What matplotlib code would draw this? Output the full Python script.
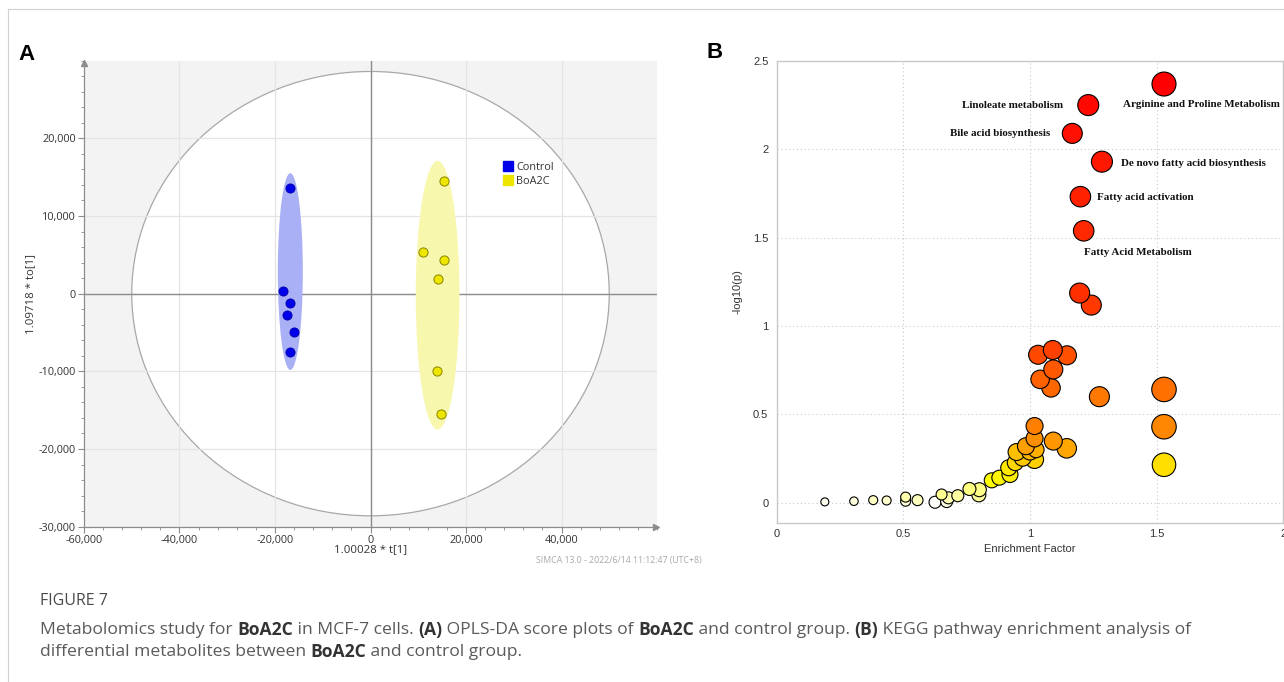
import matplotlib
matplotlib.use("Agg")
import matplotlib.pyplot as plt
import numpy as np
import colorsys
from matplotlib.patches import Ellipse
from matplotlib.lines import Line2D
from matplotlib.ticker import FuncFormatter, MultipleLocator

W, H = 1284, 682

# ---------------- Panel A data (OPLS-DA scores) ----------------
control_t = [-16790, -18260, -16940, -17500, -15950, -16940]
control_to = [13640, 310, -1160, -2780, -4890, -7500]
boa2c_t = [15450, 10980, 15320, 14190, 13910, 14690]
boa2c_to = [14500, 5330, 4380, 1850, -9910, -15520]
group_names = ["Control", "BoA2C"]
group_ell_center = [(-16790, 2840), (14060, -200)]
group_ell_semi = [(2620, 12660), (4580, 17300)]
hotelling_semi = (50000, 28600)
a_xticks = [-60000, -40000, -20000, 0, 20000, 40000]
a_yticks = [-30000, -20000, -10000, 0, 10000, 20000]

# ---------------- Panel B data (KEGG enrichment) ----------------
enrichment = [1.529, 1.230, 1.167, 1.284, 1.199, 1.212, 1.196, 1.242,
              1.032, 1.090, 1.146, 1.092, 1.040, 1.083, 1.274, 1.529,
              1.529, 1.529, 1.018, 1.018, 1.092, 1.145, 1.018, 1.000,
              0.984, 1.024, 0.971, 0.947, 0.942, 0.916, 0.921, 0.879,
              0.849, 0.800, 0.798, 0.761, 0.715, 0.678, 0.671, 0.651,
              0.625, 0.556, 0.509, 0.509, 0.434, 0.381, 0.305, 0.190]
neglogp = [2.368, 2.249, 2.089, 1.929, 1.731, 1.538, 1.186, 1.118,
           0.837, 0.864, 0.834, 0.754, 0.698, 0.650, 0.600, 0.641,
           0.430, 0.215, 0.434, 0.364, 0.349, 0.308, 0.245, 0.290,
           0.320, 0.300, 0.255, 0.287, 0.227, 0.198, 0.160, 0.142,
           0.127, 0.074, 0.045, 0.078, 0.040, 0.028, 0.007, 0.047,
           0.003, 0.015, 0.032, 0.009, 0.013, 0.015, 0.009, 0.005]
pathway_size = [24, 21, 20, 21, 20.5, 20.5, 20, 20,
                19, 19, 19, 19, 18.5, 18.5, 20, 24.5,
                24.5, 23.5, 17, 17, 18, 19.5, 18, 17,
                17, 16, 17, 17, 16, 16, 16, 15,
                15, 14, 14, 13, 12, 12, 12, 11,
                12, 11, 10, 10, 9, 9, 8.5, 8]
labels = {0: "Arginine and Proline Metabolism", 1: "Linoleate metabolism",
          2: "Bile acid biosynthesis", 3: "De novo fatty acid biosynthesis",
          4: "Fatty acid activation", 5: "Fatty Acid Metabolism"}
b_xticks = [0, 0.5, 1, 1.5, 2]
b_yticks = [0, 0.5, 1, 1.5, 2, 2.5]

fig = plt.figure(figsize=(W / 100, H / 100), dpi=100)
fig.patch.set_facecolor("white")


def ax_rect(l, t, r, b):
    return [l / W, 1 - b / H, (r - l) / W, (b - t) / H]


# ======================= Panel A =======================
axA = fig.add_axes(ax_rect(84, 60.6, 657, 526.7))
axA.set_xlim(-60000, 60000)
axA.set_ylim(-30000, 30000)
axA.set_facecolor("#f3f3f3")
axA.add_patch(Ellipse((0, 0), 2 * hotelling_semi[0], 2 * hotelling_semi[1],
                      facecolor="white", edgecolor="#a8a8a8", lw=0.9, zorder=1))
for v in a_xticks[1:]:
    axA.axvline(v, color="#e4e4e4", lw=0.9, zorder=1.5)
for v in a_yticks[1:]:
    axA.axhline(v, color="#e4e4e4", lw=0.9, zorder=1.5)
axA.axvline(0, color="#8c8c8c", lw=1.0, zorder=1.6)
axA.axhline(0, color="#8c8c8c", lw=1.0, zorder=1.6)

ell_cols = ["#aab0f6", "#f7f7ae"]
for (c, s, col) in zip(group_ell_center, group_ell_semi, ell_cols):
    axA.add_patch(Ellipse(c, 2 * s[0], 2 * s[1], facecolor=col, edgecolor="none", zorder=2))

axA.plot(control_t, control_to, "o", ms=6.6, mfc="#0000e8", mec="#0000a8", mew=0.6, zorder=3)
axA.plot(boa2c_t, boa2c_to, "o", ms=6.6, mfc="#ece600", mec="#8a8400", mew=0.7, zorder=3)

for sp in ["top", "right"]:
    axA.spines[sp].set_visible(False)
for sp in ["left", "bottom"]:
    axA.spines[sp].set_color("#8c8c8c")
    axA.spines[sp].set_linewidth(0.9)
axA.plot([0], [0.995], marker="^", ms=4, color="#8c8c8c", transform=axA.transAxes, clip_on=False)
axA.plot([0.998], [0], marker=">", ms=4, color="#8c8c8c", transform=axA.transAxes, clip_on=False)

axA.set_xticks(a_xticks)
axA.set_yticks(a_yticks)
axA.xaxis.set_minor_locator(MultipleLocator(4000))
axA.yaxis.set_minor_locator(MultipleLocator(2000))
fmt = FuncFormatter(lambda v, p: f"{int(v):,}")
axA.xaxis.set_major_formatter(fmt)
axA.yaxis.set_major_formatter(fmt)
axA.tick_params(which="major", length=4, width=0.8, color="#8c8c8c", labelsize=7.8,
                labelcolor="#333333", pad=2)
axA.tick_params(which="minor", length=2.5, width=0.6, color="#8c8c8c")
for lab in axA.get_xticklabels() + axA.get_yticklabels():
    lab.set_family("Open Sans")

axA.set_xlabel("1.00028 * t[1]", fontsize=8.2, family="Open Sans", color="#333333")
axA.set_ylabel("1.09718 * to[1]", fontsize=8.2, family="Open Sans", color="#333333")
axA.xaxis.set_label_coords(0.5, -0.05)
axA.xaxis.label.set_va("center")
axA.yaxis.set_label_coords(-0.0925, 0.5)
axA.yaxis.label.set_va("center")

handles = [Line2D([], [], ls="none", marker="s", ms=7.8, mfc="#0000e8", mec="#0000e8"),
           Line2D([], [], ls="none", marker="s", ms=7.8, mfc="#ece600", mec="#ece600")]
leg = axA.legend(handles, group_names, loc="upper left", bbox_to_anchor=(0.725, 0.792),
                 frameon=False, handlelength=0.8, handletextpad=0.35, labelspacing=0.3,
                 borderaxespad=0, prop={"family": "Open Sans", "size": 7.8})
for t in leg.get_texts():
    t.set_color("#333333")

fig.text(536 / W, 1 - 560 / H, "SIMCA 13.0 - 2022/6/14 11:12:47 (UTC+8)", fontsize=6.3,
         family="Open Sans", color="#a8a8a8", va="center", ha="left")

# ======================= Panel B =======================
axB = fig.add_axes(ax_rect(776.7, 60.7, 1283.3, 523.3))
axB.set_xlim(0, 2)
axB.set_ylim(-0.116, 2.5)


def heat_colors(n, n_pale):
    i = n - n_pale
    cols = [colorsys.hsv_to_rgb((k / (i - 1)) / 6.0, 1, 1) for k in range(i)]
    for s in np.linspace(0.5, 0.02, n_pale):
        cols.append(colorsys.hsv_to_rgb(1 / 6.0, s, 1))
    return cols


n = len(neglogp)
order = np.argsort(-np.array(neglogp), kind="stable")
hc = heat_colors(n, 15)
colors = [None] * n
for rank, idx in enumerate(order):
    colors[idx] = hc[rank]

sizes = [(0.72 * d) ** 2 for d in pathway_size]
draw_order = order[::-1]
axB.scatter(np.array(enrichment)[draw_order], np.array(neglogp)[draw_order],
            s=np.array(sizes)[draw_order], c=[colors[i] for i in draw_order],
            edgecolors="black", linewidths=0.8, zorder=3)

axB.set_xticks(b_xticks)
axB.set_yticks(b_yticks)
axB.xaxis.set_major_formatter(FuncFormatter(lambda v, p: f"{v:g}"))
axB.yaxis.set_major_formatter(FuncFormatter(lambda v, p: f"{v:g}"))
axB.grid(True, color="#c8c8c8", lw=0.8, ls=(0, (1, 2.5)), zorder=0)
axB.set_axisbelow(True)
axB.tick_params(length=0, labelsize=8, labelcolor="#333333")
axB.tick_params(axis="y", pad=6)
axB.tick_params(axis="x", pad=4)
for lab in axB.get_xticklabels() + axB.get_yticklabels():
    lab.set_family("Liberation Sans")
for sp in axB.spines.values():
    sp.set_color("#c8c8c8")
    sp.set_linewidth(1.0)
axB.set_xlabel("Enrichment Factor", fontsize=8, family="Liberation Sans", color="#333333")
axB.set_ylabel("-log10(p)", fontsize=8, family="Liberation Sans", color="#333333")
axB.xaxis.set_label_coords(0.5, -0.0556)
axB.xaxis.label.set_va("center")
axB.yaxis.set_label_coords(-0.078, 0.5)
axB.yaxis.label.set_va("center")

label_offsets = {0: (-41, -20, "left"), 1: (-25, 0, "right"), 2: (-22, 0, "right"),
                 3: (19, -1.5, "left"), 4: (16.5, -0.5, "left"), 5: (0.5, -21.3, "left")}
for i, txt in labels.items():
    dx, dy, ha = label_offsets[i]
    axB.annotate(txt, (enrichment[i], neglogp[i]), xytext=(dx * 0.72, dy * 0.72),
                 textcoords="offset points", ha=ha, va="center", fontsize=7.9,
                 family="Liberation Serif", fontweight="bold", color="#111111", zorder=4)

# ======================= Figure text =======================
fig.text(18 / W, 1 - 55 / H, "A", fontsize=16, fontweight="bold", family="Liberation Sans",
         va="center", ha="left")
fig.text(706 / W, 1 - 52 / H, "B", fontsize=16, fontweight="bold", family="Liberation Sans",
         va="center", ha="left")

fig.add_artist(Line2D([8 / W, 8 / W], [0, 1 - 9 / H], color="#d0d0d0", lw=0.8))
fig.add_artist(Line2D([8 / W, 1], [1 - 9 / H, 1 - 9 / H], color="#d0d0d0", lw=0.8))

renderer = fig.canvas.get_renderer()
cap_fs = 12.6
cap_family = "Open Sans"


def rich_line(x_px, y_px, segments):
    x = x_px
    for txt, bold in segments:
        kw = dict(fontsize=cap_fs, family=cap_family, va="center", ha="left",
                  fontweight="bold" if bold else "normal",
                  color="#333333" if bold else "#5a5a5a")
        fig.text(x / W, 1 - y_px / H, txt, **kw)
        probe = fig.text(0, 0, txt + "|", **kw)
        bar = fig.text(0, 0, "|", **kw)
        w = probe.get_window_extent(renderer).width - bar.get_window_extent(renderer).width
        probe.remove()
        bar.remove()
        x += w


fig.text(40 / W, 1 - 601 / H, "FIGURE 7", fontsize=11.5, family=cap_family, color="#4a4a4a",
         va="center", ha="left")
rich_line(40, 630, [("Metabolomics study for ", False), ("BoA2C", True),
                    (" in MCF-7 cells. ", False), ("(A)", True),
                    (" OPLS-DA score plots of ", False), ("BoA2C", True),
                    (" and control group. ", False), ("(B)", True),
                    (" KEGG pathway enrichment analysis of", False)])
rich_line(40, 652, [("differential metabolites between ", False), ("BoA2C", True),
                    (" and control group.", False)])

fig.savefig("out.png", dpi=100, facecolor="white")
